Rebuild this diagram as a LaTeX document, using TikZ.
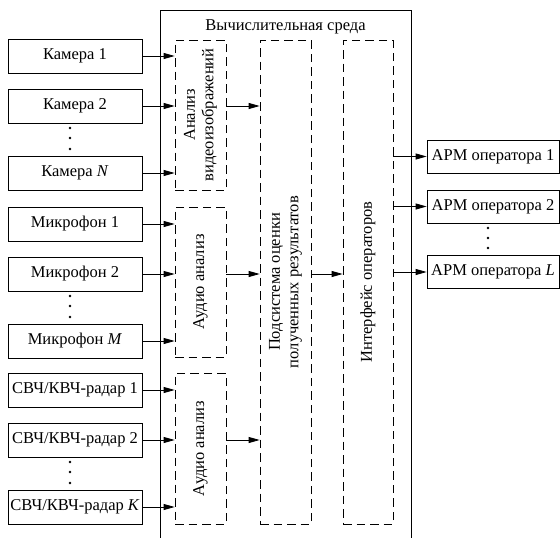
\documentclass[tikz,border=0pt]{standalone}
\usepackage{fontspec}
\setmainfont{Liberation Serif}
\usetikzlibrary{arrows.meta}
\begin{document}
\begin{tikzpicture}[x=1pt,y=-1pt,
  font=\fontsize{16.5}{18.5}\selectfont,
  line width=0.8pt,
  srcbox/.style={draw,minimum width=134pt,minimum height=34pt,inner sep=0pt},
  armbox/.style={draw,minimum width=132pt,minimum height=33pt,inner sep=0pt},
  procbox/.style={draw,dash pattern=on 8.5pt off 5pt,inner sep=0pt},
  feed/.style={-{Triangle[length=11pt,width=6pt]}},
  dotmark/.style={circle,fill,inner sep=0pt,minimum size=2.8pt}]
\useasboundingbox (0,0) rectangle (560,538);

% computing environment frame (open at the bottom)
\draw (160,538) -- (160,10) -- (411,10) -- (411,538);
\node (env) at (285.5,27) {Вычислительная среда};

% sources
\node[srcbox] (cam1) at (75,56) {Камера 1};
\node[srcbox] (cam2) at (75,106) {Камера 2};
\node[srcbox] (camN) at (75,173) {Камера \textit{N}};
\node[srcbox] (mic1) at (75,224) {Микрофон 1};
\node[srcbox] (mic2) at (75,274) {Микрофон 2};
\node[srcbox] (micM) at (75,341) {Микрофон \textit{M}};
\node[srcbox] (rad1) at (75,390) {СВЧ/КВЧ-радар 1};
\node[srcbox] (rad2) at (75,440) {СВЧ/КВЧ-радар 2};
\node[srcbox] (radK) at (75,507) {СВЧ/КВЧ-радар \textit{K}};

\foreach \y [count=\i] in {128,138,149, 296,306,317, 462,472,483}
  \node[dotmark] (sd\i) at (70,\y) {};

% processing blocks
\node[procbox,minimum width=51pt,minimum height=150pt] (vid) at (200.5,115) {};
\node[rotate=90,align=center] (vidtxt) at (vid.center) {Анализ\\видеоизображений};
\node[procbox,minimum width=51pt,minimum height=150pt] (aud) at (200.5,282) {};
\node[rotate=90] (audtxt) at (aud.center) {Аудио анализ};
\node[procbox,minimum width=51pt,minimum height=151pt] (rad) at (200.5,448.5) {};
\node[rotate=90] (radtxt) at (rad.center) {Аудио анализ};
\node[procbox,minimum width=51pt,minimum height=484pt] (eval) at (285.5,282) {};
\node[rotate=90,align=center] (evaltxt) at (eval.center) {Подсистема оценки\\полученных результатов};
\node[procbox,minimum width=50pt,minimum height=484pt] (ui) at (368,282) {};
\node[rotate=90] (uitxt) at (ui.center) {Интерфейс операторов};

% operator workstations
\node[armbox] (arm1) at (493,156.5) {АРМ оператора 1};
\node[armbox] (arm2) at (493,206.5) {АРМ оператора 2};
\node[armbox] (armL) at (493,272) {АРМ оператора \textit{L}};
\foreach \y [count=\i] in {228,238,248}
  \node[dotmark] (ad\i) at (488,\y) {};

% connectors
\foreach \s in {cam1,cam2,camN}
  \draw[feed] (\s.east) -- (\s.east -| vid.west);
\foreach \s in {mic1,mic2,micM}
  \draw[feed] (\s.east) -- (\s.east -| aud.west);
\foreach \s in {rad1,rad2,radK}
  \draw[feed] (\s.east) -- (\s.east -| rad.west);
\draw[feed] (vid.east |- cam2.east) -- (eval.west |- cam2.east);
\draw[feed] (aud.east |- mic2.east) -- (eval.west |- mic2.east);
\draw[feed] (rad.east |- rad2.east) -- (eval.west |- rad2.east);
\draw[feed] (eval.east |- mic2.east) -- (ui.west |- mic2.east);
\foreach \t in {arm1,arm2,armL}
  \draw[feed] (ui.east |- \t.west) -- (\t.west);
\end{tikzpicture}
\end{document}
